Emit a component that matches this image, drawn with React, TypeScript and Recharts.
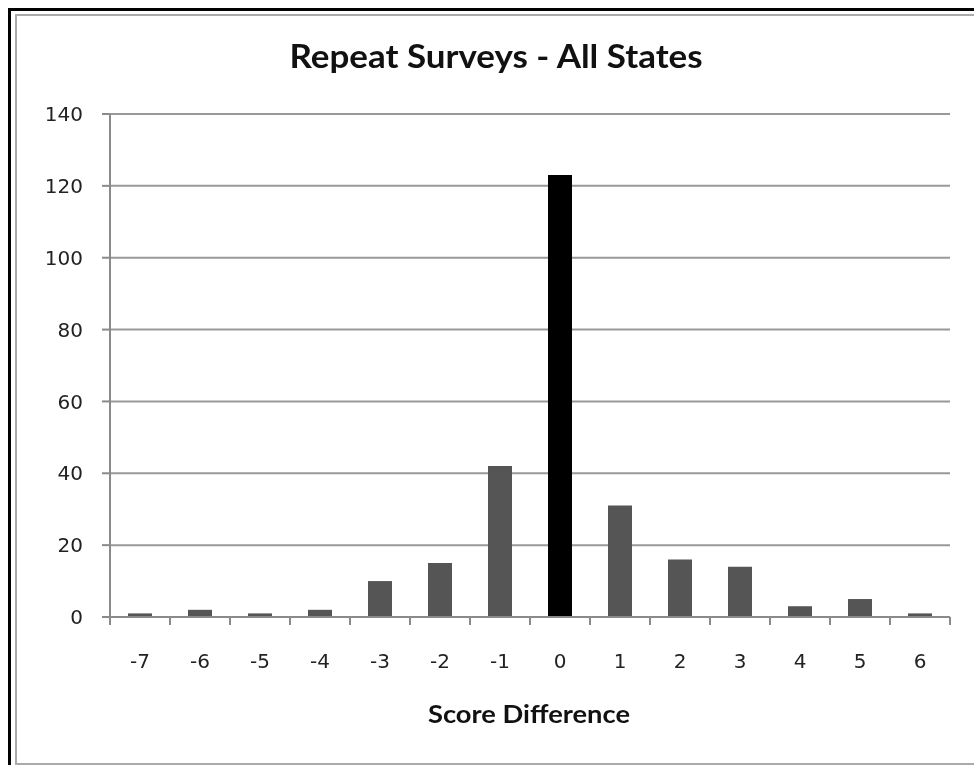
import { Bar, BarChart, CartesianGrid, Cell, XAxis, YAxis } from "recharts";

const scoreDiffs = ["-7", "-6", "-5", "-4", "-3", "-2", "-1", "0", "1", "2", "3", "4", "5", "6"];
const surveyCounts = [1, 2, 1, 2, 10, 15, 42, 123, 31, 16, 14, 3, 5, 1];
const yTicks = [0, 20, 40, 60, 80, 100, 120, 140];

const chartTitle = "Repeat Surveys - All States";
const xTitle = "Score Difference";

const data = scoreDiffs.map((diff, i) => ({ diff, count: surveyCounts[i] }));

const W = 960;
const H = 749;
const BAND = 60;
const tickFont = "'DejaVu Sans', Verdana, sans-serif";
const titleFont = "Lato, 'Open Sans', sans-serif";

function DiffTick(props: any) {
  const { x, y, payload, index } = props;
  const isLast = index === scoreDiffs.length - 1;
  return (
    <g>
      <line x1={x - BAND / 2} y1={y} x2={x - BAND / 2} y2={y + 8} stroke="#8a8a8a" strokeWidth={2} />
      {isLast && (
        <line x1={x + BAND / 2} y1={y} x2={x + BAND / 2} y2={y + 8} stroke="#8a8a8a" strokeWidth={2} />
      )}
      <text x={x} y={y + 51} textAnchor="middle" fontSize={20} fontFamily={tickFont} fill="#222">
        {payload.value}
      </text>
    </g>
  );
}

export default function App() {
  return (
    <div style={{ position: "relative", width: W, height: H, background: "#fff" }}>
      <div
        style={{
          position: "fixed",
          left: 8,
          top: 8,
          width: 966,
          height: 757,
          boxSizing: "border-box",
          borderTop: "3px solid #000",
          borderLeft: "3px solid #000",
        }}
      />
      <div
        style={{
          position: "fixed",
          left: 15,
          top: 14,
          width: 959,
          height: 751,
          boxSizing: "border-box",
          borderTop: "2px solid #aaa",
          borderLeft: "2px solid #aaa",
          borderBottom: "2px solid #aaa",
        }}
      />
      <div style={{ position: "absolute", left: 0, top: 0 }}>
        <BarChart
          width={W}
          height={H}
          data={data}
          margin={{ top: 106, right: 18, left: 42, bottom: 110 }}
          barSize={24}
        >
          <CartesianGrid vertical={false} stroke="#999" strokeWidth={2} />
          <XAxis
            dataKey="diff"
            height={30}
            tickLine={false}
            tickSize={0}
            tickMargin={0}
            axisLine={{ stroke: "#8a8a8a", strokeWidth: 2 }}
            tick={<DiffTick />}
            interval={0}
          />
          <YAxis
            width={60}
            domain={[0, 140]}
            ticks={yTicks}
            tickSize={8}
            tickMargin={19}
            axisLine={{ stroke: "#8a8a8a", strokeWidth: 2 }}
            tickLine={{ stroke: "#8a8a8a", strokeWidth: 2 }}
            tick={{ fontSize: 20, fontFamily: tickFont, fill: "#222" }}
          />
          <Bar dataKey="count" isAnimationActive={false}>
            {data.map((d, i) => (
              <Cell key={`cell-${i}`} fill={d.diff === "0" ? "#000" : "#555"} />
            ))}
          </Bar>
        </BarChart>
      </div>
      <svg
        width={W}
        height={H}
        style={{ position: "absolute", left: 0, top: 0, pointerEvents: "none", overflow: "visible" }}
      >
        <text
          x={488}
          y={60}
          textAnchor="middle"
          fontFamily={titleFont}
          fontWeight={700}
          fontSize={32}
          fill="#111"
          textLength={413}
          lengthAdjust="spacingAndGlyphs"
        >
          {chartTitle}
        </text>
        <text
          x={521}
          y={715}
          textAnchor="middle"
          fontFamily={titleFont}
          fontWeight={700}
          fontSize={25}
          fill="#111"
          textLength={202}
          lengthAdjust="spacingAndGlyphs"
        >
          {xTitle}
        </text>
      </svg>
    </div>
  );
}
